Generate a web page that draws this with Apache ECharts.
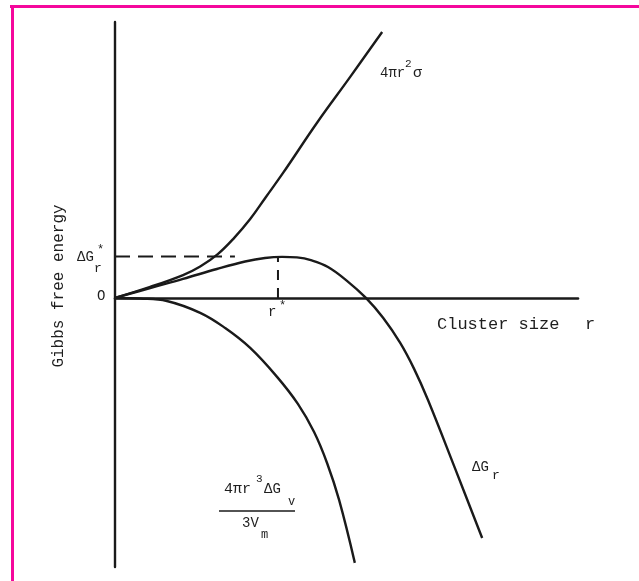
<!DOCTYPE html>
<html>
<head>
<meta charset="utf-8">
<title>Gibbs free energy</title>
<script src="https://cdn.jsdelivr.net/npm/echarts@6/dist/echarts.min.js"></script>
<style>
    html, body { margin: 0; padding: 0; background: #fff; }
    #main { width: 639px; height: 581px; }
</style>
</head>
<body>
<div id="main"></div>
<script>
    // curves, [cluster size r, energy] in arbitrary units
    var surfaceTerm = [[0, 0], [0.76, 0.40], [1.47, 0.83], [1.84, 1.14], [2.22, 1.59],
        [2.57, 2.17], [2.92, 2.86], [3.26, 3.66], [3.63, 4.53], [4.36, 6.34],
        [5.08, 8.01], [5.77, 9.64]];
    var totalDG = [[0, 0], [0.76, 0.36], [1.47, 0.69], [2.20, 1.05], [2.81, 1.32],
        [3.24, 1.45], [3.61, 1.49], [3.93, 1.47], [4.25, 1.36], [4.60, 1.12],
        [5.01, 0.62], [5.42, 0], [5.79, -0.72], [6.16, -1.63], [6.46, -2.57],
        [6.76, -3.70], [7.34, -6.16], [7.93, -8.70]];
    var volumeTerm = [[0, 0], [0.54, -0.02], [1.12, -0.11], [1.84, -0.54], [2.38, -1.09],
        [2.92, -1.81], [3.50, -2.86], [3.95, -3.84], [4.30, -4.86], [4.58, -5.98],
        [4.84, -7.32], [5.18, -9.60]];
    var rStar = 3.52;
    var dGStar = 1.5;
    var dashEnd = 2.59;

    var mono = '"Liberation Mono", "DejaVu Sans Mono", monospace';
    var ink = '#1a1a1a';

    function txt(s, x, y, size) {
        return {
            type: 'text',
            style: {
                text: s, x: x, y: y, fill: '#1e1e1e',
                font: size + 'px ' + mono,
                textAlign: 'left', textVerticalAlign: 'middle'
            }
        };
    }

    var chart = echarts.init(document.getElementById('main'));
    var curve = function (name, data) {
        return {
            name: name, type: 'line', data: data,
            smooth: 0.4,
            symbol: 'none', silent: true, animation: false,
            lineStyle: { color: ink, width: 2.4 }
        };
    };

    chart.setOption({
        backgroundColor: '#fff',
        grid: { left: 115, top: 22, width: 463, height: 545 },
        xAxis: {
            type: 'value', min: 0, max: 10,
            axisLine: { onZero: true, lineStyle: { color: ink, width: 2.6 } },
            axisTick: { show: false }, axisLabel: { show: false }, splitLine: { show: false }
        },
        yAxis: {
            type: 'value', min: -9.75, max: 10,
            axisLine: { show: true, onZero: false, lineStyle: { color: ink, width: 2.4 } },
            axisTick: { show: false }, axisLabel: { show: false }, splitLine: { show: false }
        },
        series: [
            curve('4πr²σ', surfaceTerm),
            curve('ΔGr', totalDG),
            curve('volume', volumeTerm),
            {
                type: 'line', data: [[0, dGStar], [dashEnd, dGStar]], symbol: 'none',
                animation: false, silent: true,
                lineStyle: { color: ink, width: 2, type: [15, 8] }
            },
            {
                type: 'line', data: [[rStar, 0], [rStar, dGStar]], symbol: 'none',
                animation: false, silent: true,
                lineStyle: { color: ink, width: 2, type: [10, 8] }
            }
        ],
        graphic: [
            { type: 'rect', shape: { x: 10, y: 5, width: 629, height: 3 }, style: { fill: '#f5079c' } },
            { type: 'rect', shape: { x: 11, y: 5, width: 3, height: 576 }, style: { fill: '#f5079c' } },
            {
                type: 'text', x: 59, y: 286, rotation: Math.PI / 2,
                style: {
                    text: 'Gibbs free energy', fill: '#1e1e1e', font: '16px ' + mono,
                    textAlign: 'center', textVerticalAlign: 'middle'
                }
            },
            txt('4πr', 380, 73, 14),
            txt('2', 405, 64, 11),
            txt('σ', 413, 73, 15),
            txt('ΔG', 77, 257, 14),
            txt('*', 97, 250, 12),
            txt('r', 94, 269, 13),
            txt('O', 97, 296, 14),
            txt('r', 268, 312, 14),
            txt('*', 279, 306, 12),
            txt('Cluster size', 437, 324, 17),
            txt('r', 585, 324, 17),
            txt('ΔG', 472, 467, 14),
            txt('r', 492, 476, 13),
            txt('4πr', 224, 489, 15),
            txt('3', 256, 479, 11),
            txt('ΔG', 264, 489, 14),
            txt('v', 288, 502, 12),
            { type: 'line', shape: { x1: 219, y1: 511, x2: 295, y2: 511 }, style: { stroke: ink, lineWidth: 1.5 } },
            txt('3V', 242, 523, 14),
            txt('m', 261, 535, 12)
        ]
    });
</script>
</body>
</html>
